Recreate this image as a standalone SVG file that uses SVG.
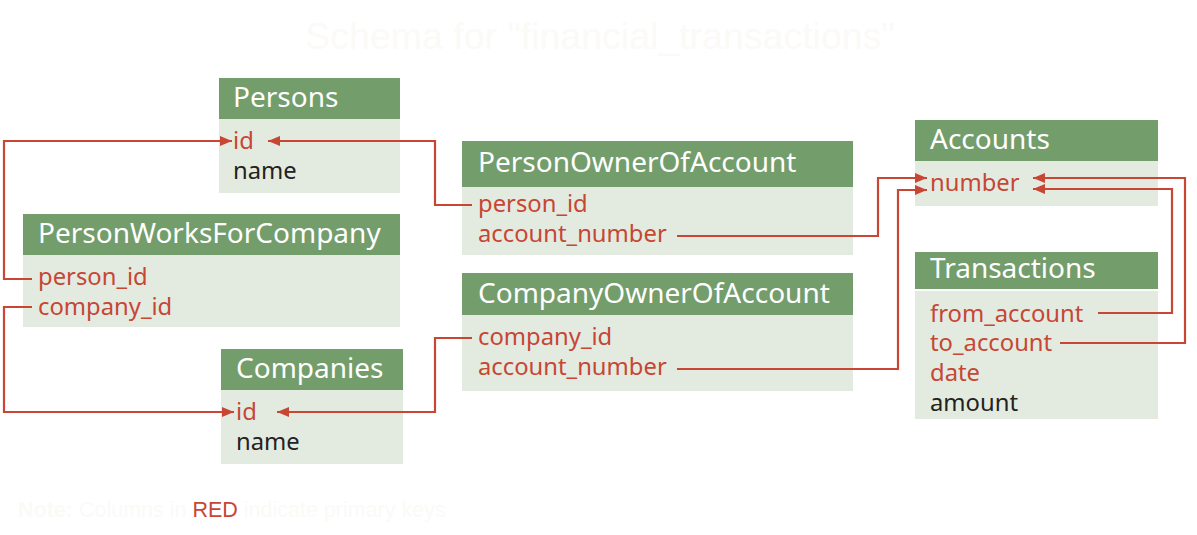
<svg xmlns="http://www.w3.org/2000/svg" width="1197" height="535" viewBox="0 0 1197 535">
<defs>
<style>
.hd{fill:#739d6b}
.bd{fill:#e3ebe0}
.ht{font-family:"Noto Sans","Open Sans",sans-serif;font-size:28px;fill:#ffffff}
.f{font-family:"Noto Sans","Open Sans",sans-serif;font-size:23.8px}
.pk{fill:#c74634}
.nk{fill:#222222}
.c{fill:none;stroke:#c74634;stroke-width:2.2;marker-end:url(#ah)}
.ti{font-family:"Liberation Sans",Arial,sans-serif;fill:#fbfaf7}
</style>
<marker id="ah" markerUnits="userSpaceOnUse" markerWidth="13" markerHeight="12" refX="12" refY="6" orient="auto">
<path d="M0,1 L12,6 L0,11 z" fill="#c74634"/>
</marker>
</defs>
<rect width="1197" height="535" fill="#ffffff"/>
<text class="ti" x="600" y="49" font-size="37.5" text-anchor="middle">Schema for "financial_transactions"</text>

<g id="Persons">
<rect class="hd" x="219" y="78" width="181" height="41"/>
<rect class="bd" x="219" y="119" width="181" height="74"/>
<text class="ht" x="233" y="107">Persons</text>
<text class="f pk" x="233" y="149">id</text>
<text class="f nk" x="233" y="179">name</text>
</g>

<g id="PersonWorksForCompany">
<rect class="hd" x="23" y="214" width="377" height="41"/>
<rect class="bd" x="23" y="255" width="377" height="72"/>
<text class="ht" x="38" y="243">PersonWorksForCompany</text>
<text class="f pk" x="38" y="285">person_id</text>
<text class="f pk" x="38" y="315">company_id</text>
</g>

<g id="Companies">
<rect class="hd" x="221" y="349" width="182" height="41"/>
<rect class="bd" x="221" y="390" width="182" height="74"/>
<text class="ht" x="236" y="378">Companies</text>
<text class="f pk" x="236" y="420">id</text>
<text class="f nk" x="236" y="450">name</text>
</g>

<g id="PersonOwnerOfAccount">
<rect class="hd" x="462" y="141" width="391" height="46"/>
<rect class="bd" x="462" y="187" width="391" height="68"/>
<text class="ht" x="478" y="172">PersonOwnerOfAccount</text>
<text class="f pk" x="478" y="212">person_id</text>
<text class="f pk" x="478" y="242">account_number</text>
</g>

<g id="CompanyOwnerOfAccount">
<rect class="hd" x="462" y="273" width="391" height="42"/>
<rect class="bd" x="462" y="315" width="391" height="76"/>
<text class="ht" x="478" y="303">CompanyOwnerOfAccount</text>
<text class="f pk" x="478" y="345">company_id</text>
<text class="f pk" x="478" y="375">account_number</text>
</g>

<g id="Accounts">
<rect class="hd" x="915" y="120" width="243" height="41"/>
<rect class="bd" x="915" y="161" width="243" height="45"/>
<text class="ht" x="930" y="149">Accounts</text>
<text class="f pk" x="930" y="191">number</text>
</g>

<g id="Transactions">
<rect class="hd" x="915" y="252" width="243" height="37"/>
<rect class="bd" x="915" y="291" width="243" height="128"/>
<text class="ht" x="930" y="278">Transactions</text>
<text class="f pk" x="930" y="322">from_account</text>
<text class="f pk" x="930" y="351">to_account</text>
<text class="f pk" x="930" y="381">date</text>
<text class="f nk" x="930" y="411">amount</text>
</g>

<g id="connectors">
<path class="c" d="M32 279 H4 V141 H232"/>
<path class="c" d="M472 205 H435 V141 H268"/>
<path class="c" d="M32 307 H4 V412 H234"/>
<path class="c" d="M472 338 H435 V412 H277"/>
<path class="c" d="M677 236 H878 V178 H927"/>
<path class="c" d="M677 369 H898 V190 H927"/>
<path class="c" d="M1098 313 H1172 V189 H1033"/>
<path class="c" d="M1060 343 H1185 V178 H1033"/>
</g>

<text class="ti" x="18" y="517" font-size="21.5"><tspan font-weight="bold">Note:</tspan> Columns in <tspan fill="#c74634">RED</tspan> indicate primary keys</text>
</svg>
